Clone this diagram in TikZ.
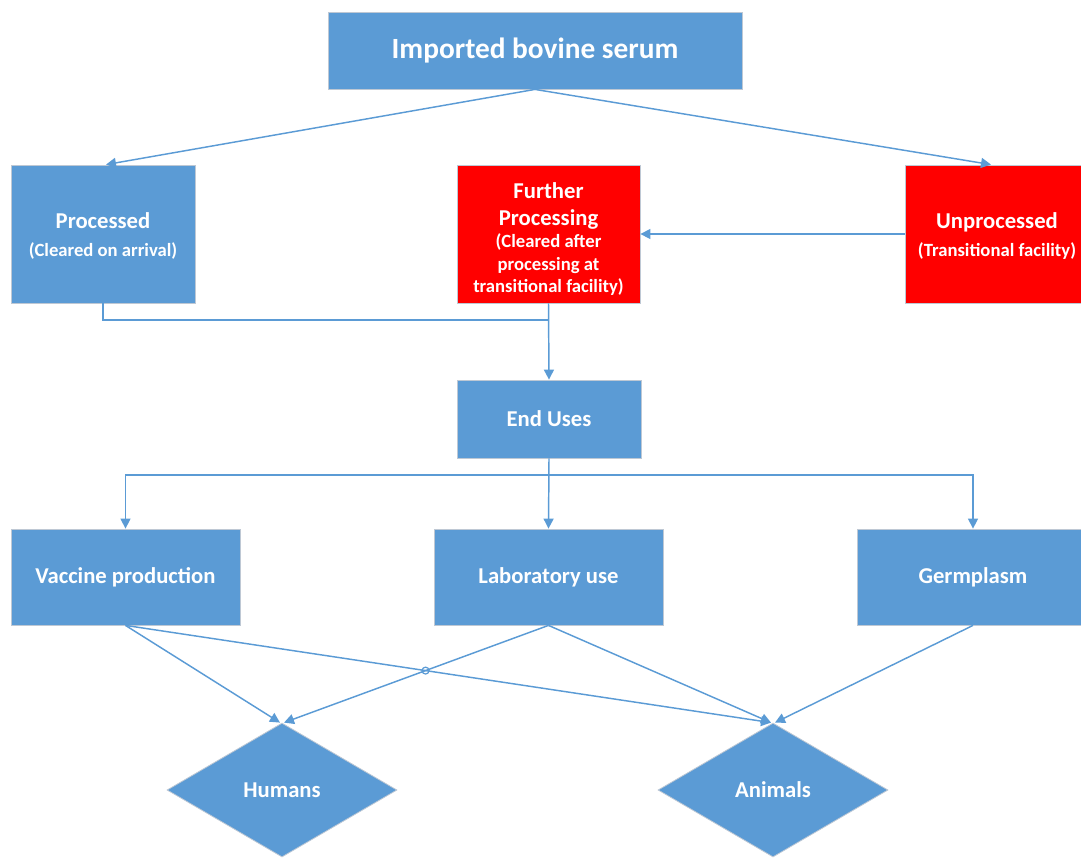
\documentclass[tikz,border=0pt]{standalone}
\usepackage{fontspec}
\setmainfont{Carlito}
\usetikzlibrary{shapes.geometric,arrows.meta,intersections,calc}
\definecolor{obl}{RGB}{91,155,213}
\definecolor{ored}{RGB}{255,0,0}
\definecolor{oedge}{RGB}{190,200,212}
\newcommand{\smalltxt}{\fontsize{14}{16.5}\selectfont}
\tikzset{
  box/.style={rectangle, fill=obl, draw=oedge, line width=0.6pt, text=white, font=\bfseries\fontsize{17}{20}\selectfont, align=center, inner sep=2pt},
  redbox/.style={box, fill=ored},
  dia/.style={diamond, fill=obl, draw=oedge, line width=0.6pt, text=white, font=\bfseries\fontsize{17}{20}\selectfont, inner sep=0pt, minimum width=172.5pt, minimum height=100.5pt, aspect=1.7},
  conn/.style={draw=obl, line width=1.1pt},
  arr/.style={conn, -{Triangle[length=7.5pt,width=7.5pt]}}
}
\begin{document}
\begin{tikzpicture}[x=0.75pt,y=-0.75pt]
\useasboundingbox (0,0) rectangle (1081,857);
\node[box, minimum width=310.5pt, minimum height=57.75pt, font=\bfseries\fontsize{22}{26}\selectfont] (top) at (535,50.5) {Imported bovine serum};
\node[box, minimum width=138pt, minimum height=103.5pt] (proc) at (103,234) {\rule{0pt}{15pt}Processed\\[1.5pt]{\smalltxt (Cleared on arrival)}};
\node[redbox, minimum width=137.25pt, minimum height=103.5pt] (further) at (548.5,234) {\rule{0pt}{20pt}Further\\Processing\\[-3.5pt]{\smalltxt (Cleared after}\\[-3pt]{\smalltxt processing at}\\[-3pt]{\smalltxt transitional facility)}};
\node[redbox, minimum width=138pt, minimum height=103.5pt] (unproc) at (997,234) {\rule{0pt}{15pt}Unprocessed\\[1.5pt]{\smalltxt (Transitional facility)}};
\node[box, minimum width=138pt, minimum height=58.5pt] (end) at (549,419) {End Uses};
\node[box, minimum width=171.75pt, minimum height=72pt] (vac) at (125.5,577) {Vaccine production};
\node[box, minimum width=171.75pt, minimum height=72pt] (lab) at (548.5,577) {Laboratory use};
\node[box, minimum width=174pt, minimum height=72pt] (germ) at (973,577) {Germplasm};
\node[dia] (hum) at (282,790) {Humans};
\node[dia] (ani) at (773,790) {Animals};
% top fan-out
\draw[arr] (top.south) -- ([xshift=2.25pt]proc.north);
\draw[arr] (top.south) -- ([xshift=-4.5pt]unproc.north);
\draw[arr] (unproc.west) -- (further.east);
% merge to End Uses
\coordinate (mj) at (549,320);
\draw[conn] (proc.south) |- (mj);
\draw[arr] (further.south) -- (end.north);
% end uses fan-out
\coordinate (ej) at (549,475);
\draw[arr] (end.south) -- (lab.north);
\draw[arr] (ej) -| (vac.north);
\draw[arr] (ej) -| (germ.north);
% bottom connectors
\draw[arr, name path=lh] (lab.south) -- ([xshift=1.5pt]hum.north);
\draw[arr, name path=va] (vac.south) -- ([xshift=-1.5pt]ani.north);
\draw[arr] (vac.south) -- ([xshift=-1.5pt]hum.north);
\draw[arr] (lab.south) -- ([xshift=-1.5pt]ani.north);
\draw[arr] (germ.south) -- ([xshift=1.5pt]ani.north);
\path[name intersections={of=lh and va, by=hop}];
\draw[conn, line width=0.9pt] (hop) circle (2.6pt);
\end{tikzpicture}
\end{document}
